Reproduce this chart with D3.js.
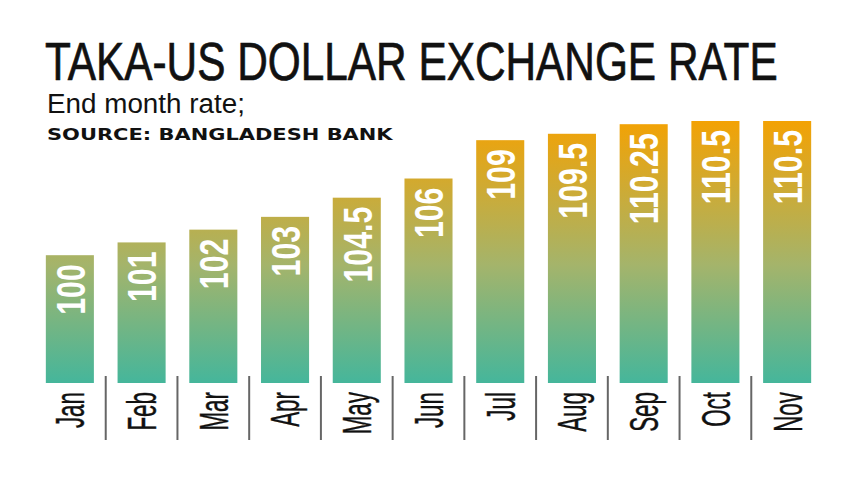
<!DOCTYPE html>
<html>
<head>
<meta charset="utf-8">
<script src="https://cdn.jsdelivr.net/npm/d3@7"></script>
<style>
  body { margin: 0; background: #fff; }
  svg { display: block; }
</style>
</head>
<body>
<script>
var months = ["Jan", "Feb", "Mar", "Apr", "May", "Jun", "Jul", "Aug", "Sep", "Oct", "Nov"];
var rates = [100, 101, 102, 103, 104.5, 106, 109, 109.5, 110.25, 110.5, 110.5];
var rate_labels = ["100", "101", "102", "103", "104.5", "106", "109", "109.5", "110.25", "110.5", "110.5"];

var width = 857, height = 482;

var svg = d3.select("body").append("svg")
    .attr("width", width)
    .attr("height", height);

var x = d3.scaleBand()
    .domain(months)
    .range([34, 823])
    .paddingInner(0.33)
    .paddingOuter(0.165);

var y = d3.scaleLinear()
    .domain([90, d3.max(rates)])
    .range([383, 121]);

// gradient runs over the whole plot height, so short bars stop in the greens
var grad = svg.append("defs").append("linearGradient")
    .attr("id", "bar_grad")
    .attr("gradientUnits", "userSpaceOnUse")
    .attr("x1", 0).attr("x2", 0)
    .attr("y1", y(90)).attr("y2", y(d3.max(rates)));
grad.append("stop").attr("offset", 0).attr("stop-color", "#45b69b");
grad.append("stop").attr("offset", 0.45).attr("stop-color", "#a4b46b");
grad.append("stop").attr("offset", 1).attr("stop-color", "#f3a204");

// squeeze a heading horizontally so it spans the wanted width
var fit_text = function(sel, x0, y0, w){
    var len = sel.node().getComputedTextLength();
    sel.attr("transform", "translate(" + x0 + "," + y0 + ") scale(" + (w/len) + ",1)");
}

var title = svg.append("text")
    .style("font-family", "'Liberation Sans', Arial, sans-serif")
    .style("font-size", "54px")
    .style("fill", "#111")
    .style("stroke", "#111")
    .style("stroke-width", 0.7)
    .text("TAKA-US DOLLAR EXCHANGE RATE");
fit_text(title, 45, 80, 733);

var subtitle = svg.append("text")
    .style("font-family", "'Liberation Sans', Arial, sans-serif")
    .style("font-size", "27px")
    .style("fill", "#111")
    .text("End month rate;");
fit_text(subtitle, 47, 113, 198);

var source = svg.append("text")
    .style("font-family", "'DejaVu Sans', sans-serif")
    .style("font-weight", "bold")
    .style("font-size", "15px")
    .style("fill", "#111")
    .text("SOURCE: BANGLADESH BANK");
fit_text(source, 47, 140, 346);

var data = months.map(function(m, i){
    return {month: m, rate: rates[i], label: rate_labels[i]};
});

// bars
svg.append("g").selectAll("rect")
    .data(data).enter().append("rect")
    .attr("x", function(d){ return x(d.month); })
    .attr("y", function(d){ return y(d.rate); })
    .attr("width", x.bandwidth())
    .attr("height", function(d){ return y(90) - y(d.rate); })
    .style("fill", "url(#bar_grad)");

// value labels, rotated, hanging from the bar top
svg.append("g").selectAll("text")
    .data(data).enter().append("text")
    .attr("transform", function(d){
        return "translate(" + (x(d.month) + x.bandwidth()/2) + "," + (y(d.rate) + 9) + ") rotate(-90) scale(0.74,1)";
    })
    .attr("text-anchor", "end")
    .attr("dy", "0.36em")
    .style("font-family", "'Liberation Sans', Arial, sans-serif")
    .style("font-weight", "bold")
    .style("font-size", "41px")
    .style("fill", "#fff")
    .text(function(d){ return d.label; });

// month labels
svg.append("g").selectAll("text")
    .data(data).enter().append("text")
    .attr("transform", function(d){
        return "translate(" + (x(d.month) + x.bandwidth()/2) + ",392) rotate(-90) scale(0.56,1)";
    })
    .attr("text-anchor", "end")
    .attr("dy", "0.36em")
    .style("font-family", "'Liberation Sans', Arial, sans-serif")
    .style("font-size", "40px")
    .style("fill", "#111")
    .style("stroke", "#111")
    .style("stroke-width", 0.4)
    .text(function(d){ return d.month; });

// separators between the months
var gap = x.step() * x.paddingInner() / 2;
svg.append("g").selectAll("line")
    .data(months.slice(1)).enter().append("line")
    .attr("x1", function(d){ return x(d) - gap; })
    .attr("x2", function(d){ return x(d) - gap; })
    .attr("y1", 376).attr("y2", 440)
    .style("stroke", "#666")
    .style("stroke-width", 2);
</script>
</body>
</html>
